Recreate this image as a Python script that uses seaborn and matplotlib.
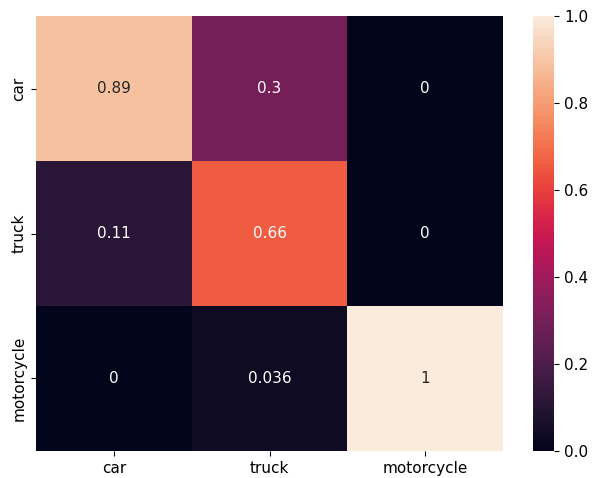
import matplotlib
matplotlib.use("Agg")
import matplotlib.pyplot as plt
import seaborn as sns
import numpy as np

labels = ["car", "truck", "motorcycle"]
row_car = [0.89, 0.3, 0.0]
row_truck = [0.11, 0.66, 0.0]
row_motorcycle = [0.0, 0.036, 1.0]

matrix = np.array([row_car, row_truck, row_motorcycle])

plt.rcParams["font.size"] = 11

fig = plt.figure(figsize=(5.95, 4.78), dpi=100)
ax = fig.add_axes([0.0605, 0.0565, 0.785, 0.910])
cax = fig.add_axes([0.896, 0.0565, 0.0355, 0.910])

sns.heatmap(matrix, annot=True, xticklabels=labels, yticklabels=labels,
            vmin=0, vmax=1, ax=ax, cbar_ax=cax)

fig.savefig("out.png", dpi=100)
